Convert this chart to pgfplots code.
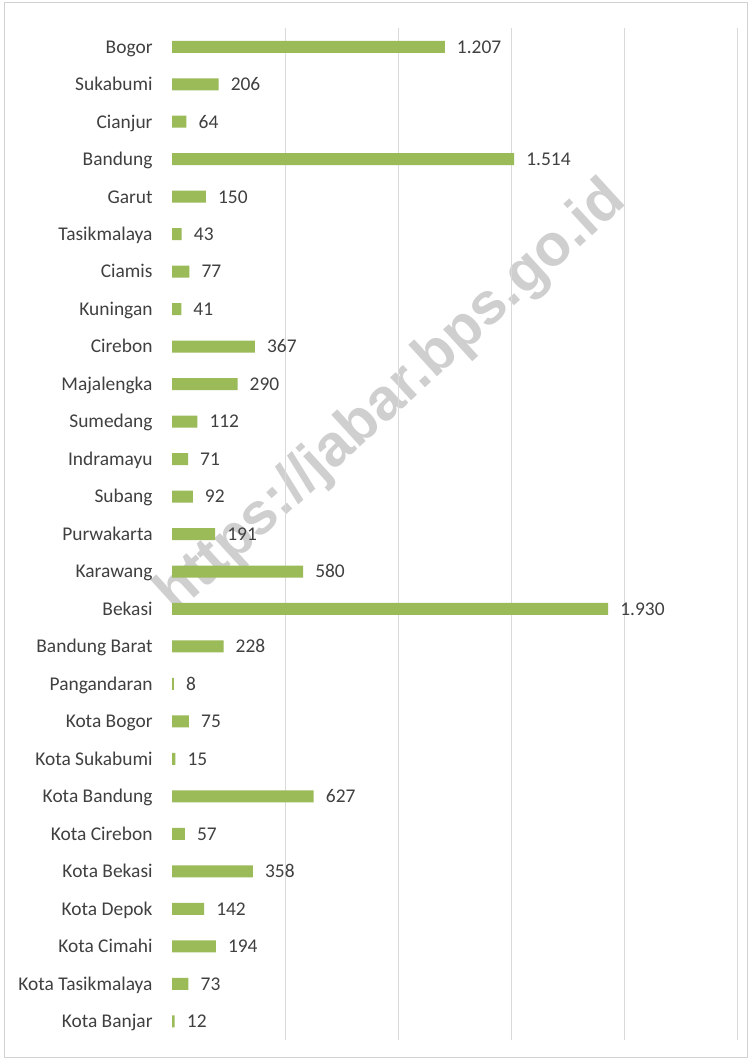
\documentclass[border=0pt]{standalone}
\usepackage{pgfplots}
\pgfplotsset{compat=1.18}
\usepackage{pgfplotstable}
\usepackage{fontspec}
\setmainfont{Carlito}
\newfontfamily\wmfont{Liberation Sans}
\definecolor{bargreen}{HTML}{9BBB59}
\definecolor{txt}{HTML}{404040}
\definecolor{gridc}{HTML}{D9D9D9}
\definecolor{wm}{HTML}{CFCFCF}
\pgfplotstableread{
y x lab
0 1207 1.207
1 206 206
2 64 64
3 1514 1.514
4 150 150
5 43 43
6 77 77
7 41 41
8 367 367
9 290 290
10 112 112
11 71 71
12 92 92
13 191 191
14 580 580
15 1930 1.930
16 228 228
17 8 8
18 75 75
19 15 15
20 627 627
21 57 57
22 358 358
23 142 142
24 194 194
25 73 73
26 12 12
}\data
\begin{document}
\begin{tikzpicture}
\useasboundingbox (0,0) rectangle (752bp,1060bp);
\fill[white] (0,0) rectangle (752bp,1060bp);
\draw[gray!35, line width=0.8bp] (4bp,3bp) rectangle (747bp,1058bp);
\node[rotate=42.4, text=wm, font=\wmfont\bfseries\fontsize{59}{60}\selectfont] at (392bp,662bp) {https://jabar.bps.go.id};
\begin{axis}[
  at={(172bp,20bp)}, anchor=south west,
  scale only axis, width=565bp, height=1012bp,
  xbar, bar width=12bp,
  xmin=0, xmax=2500,
  ymin=-0.5, ymax=26.5, y dir=reverse,
  xtick={500,1000,1500,2000,2500}, xticklabels={},
  xmajorgrids, grid style={gridc, line width=0.8bp},
  ytick={0,...,26},
  yticklabels={Bogor,Sukabumi,Cianjur,Bandung,Garut,Tasikmalaya,Ciamis,Kuningan,Cirebon,Majalengka,Sumedang,Indramayu,Subang,Purwakarta,Karawang,Bekasi,Bandung Barat,Pangandaran,Kota Bogor,Kota Sukabumi,Kota Bandung,Kota Cirebon,Kota Bekasi,Kota Depok,Kota Cimahi,Kota Tasikmalaya,Kota Banjar},
  yticklabel style={font=\fontsize{19.5}{21}\selectfont, text=txt, anchor=east, inner sep=0pt, text height=12.6bp, text depth=0pt, xshift=-15bp},
  axis line style={draw=none}, tick style={draw=none},
  point meta=explicit symbolic,
  nodes near coords,
  nodes near coords style={font=\fontsize{19.5}{21}\selectfont, text=txt, anchor=west, inner sep=0pt, text height=12.6bp, text depth=0pt, xshift=12bp},
  clip=false,
]
\addplot[fill=bargreen, draw=none] table[x=x, y=y, meta=lab] {\data};
\end{axis}
\end{tikzpicture}
\end{document}
